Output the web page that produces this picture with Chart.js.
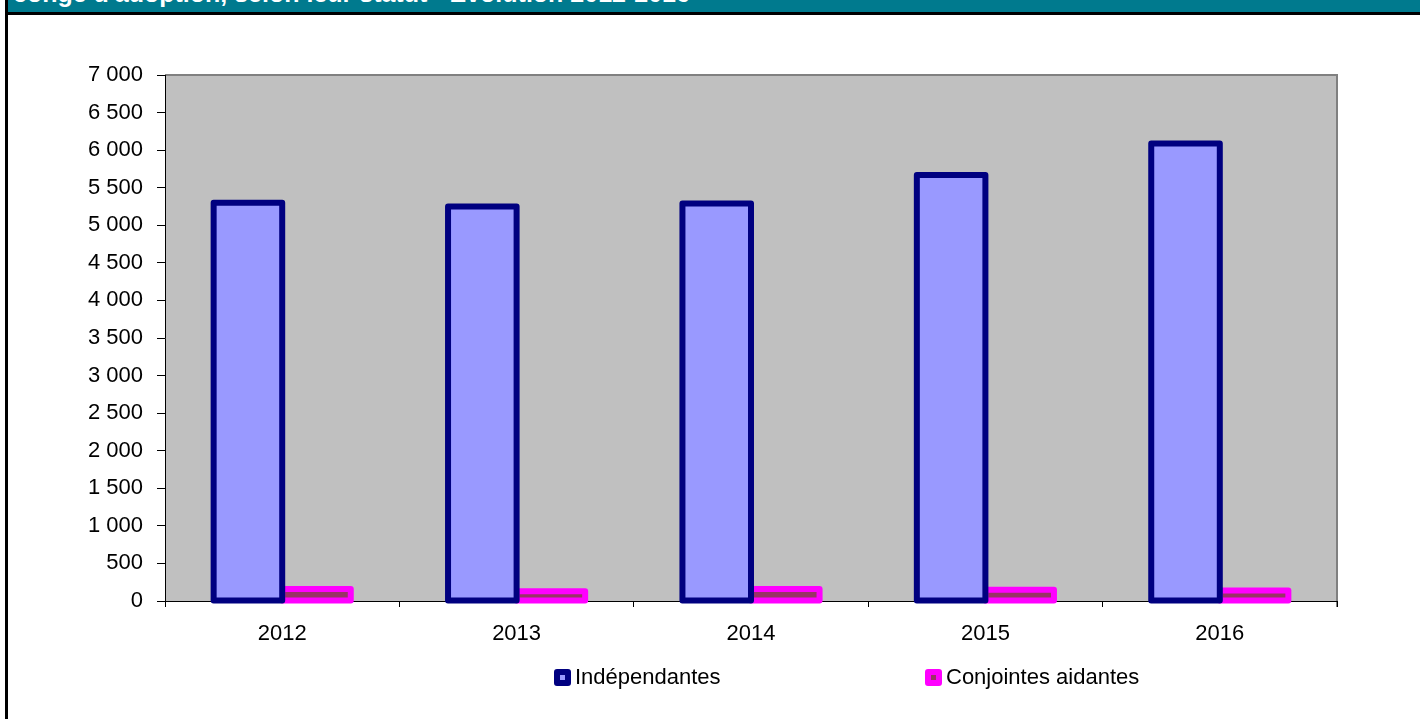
<!DOCTYPE html>
<html lang="fr">
<head>
<meta charset="UTF-8">
<title>Congé d'adoption - Evolution 2012-2016</title>
<script src="https://cdn.jsdelivr.net/npm/chart.js"></script>
<style>
    body { margin: 0; background: #fff; }
    .page { position: relative; width: 1420px; height: 719px; overflow: hidden; font-family: "Liberation Sans", Arial, sans-serif; }
    .bandeau { position: absolute; left: 8px; top: 0; width: 1412px; height: 12px; background: #007a8e; overflow: hidden; }
    .bandeau span { position: absolute; left: 5px; top: -21px; color: #fff; font: bold 25px "Liberation Sans", Arial, sans-serif; white-space: nowrap; }
    .trait-h { position: absolute; left: 8px; top: 12px; width: 1412px; height: 3px; background: #000; }
    .trait-v { position: absolute; left: 5px; top: 0; width: 3px; height: 719px; background: #000; }
    .chart-box { position: absolute; left: 0; top: 0; width: 1420px; height: 719px; }
    .legende { position: absolute; left: 554px; top: 664px; display: flex; }
    .legende div { display: flex; align-items: center; font-size: 22px; color: #000; }
    .legende i { display: inline-block; width: 17px; height: 17px; box-sizing: border-box; border: 6px solid; border-radius: 3px; margin-right: 4px; }
</style>
</head>
<body>
<div class="page">
    <div class="chart-box"><canvas id="graph"></canvas></div>
    <div class="trait-v"></div>
    <div class="bandeau"><span>congé d'adoption, selon leur statut - Evolution 2012-2016</span></div>
    <div class="trait-h"></div>
    <div class="legende" id="legende"></div>
</div>
<script>
    const annees = ['2012', '2013', '2014', '2015', '2016'];
    const independantes = [5300, 5250, 5290, 5670, 6090];
    const conjointes = [160, 130, 160, 150, 140];

    const couleurs = [
        { fond: '#9999ff', bord: '#000080' },
        { fond: '#993366', bord: '#ff00ff' }
    ];

    // fond gris de la zone de tracé + cadre haut/droite
    const fondZone = {
        id: 'fondZone',
        beforeDraw(chart) {
            const { ctx, chartArea: a } = chart;
            ctx.save();
            ctx.fillStyle = '#c0c0c0';
            ctx.fillRect(a.left, a.top, a.right - a.left, a.bottom - a.top);
            ctx.strokeStyle = '#808080';
            ctx.lineWidth = 2;
            ctx.beginPath();
            ctx.moveTo(a.left, a.top);
            ctx.lineTo(a.right, a.top);
            ctx.lineTo(a.right, a.bottom + 6);
            ctx.stroke();
            ctx.restore();
        }
    };

    // bordure épaisse centrée sur le bord de la barre (comme Excel)
    const bordBarres = {
        id: 'bordBarres',
        afterDatasetDraw(chart, args) {
            const ctx = chart.ctx;
            const ds = chart.data.datasets[args.index];
            ctx.save();
            ctx.strokeStyle = ds.contour;
            ctx.lineWidth = 6;
            ctx.lineJoin = 'round';
            args.meta.data.forEach(bar => {
                const p = bar.getProps(['x', 'y', 'base', 'width'], true);
                ctx.strokeRect(p.x - p.width / 2, p.y, p.width, p.base - p.y);
            });
            ctx.restore();
        }
    };

    const chart = new Chart(document.getElementById('graph'), {
        type: 'bar',
        data: {
            labels: annees,
            datasets: [
                { label: 'Indépendantes', data: independantes, backgroundColor: couleurs[0].fond, contour: couleurs[0].bord, borderWidth: 0 },
                { label: 'Conjointes aidantes', data: conjointes, backgroundColor: couleurs[1].fond, contour: couleurs[1].bord, borderWidth: 0 }
            ]
        },
        options: {
            responsive: true,
            maintainAspectRatio: false,
            animation: false,
            layout: { padding: { left: 0, top: 75, right: 83, bottom: 58 } },
            datasets: { bar: { categoryPercentage: 0.585, barPercentage: 1 } },
            plugins: { legend: { display: false }, tooltip: { enabled: false } },
            scales: {
                x: {
                    grid: { drawOnChartArea: false, tickLength: 6, color: '#000', offset: true },
                    border: { color: '#000', width: 1 },
                    ticks: { color: '#000', padding: 14, font: { family: '"Liberation Sans", Arial', size: 22 } },
                    afterFit: s => { s.height = 60; }
                },
                y: {
                    min: 0,
                    max: 7000,
                    grid: { drawOnChartArea: false, tickLength: 8, color: '#000' },
                    border: { color: '#000', width: 1 },
                    ticks: {
                        stepSize: 500,
                        color: '#000',
                        padding: 14,
                        font: { family: '"Liberation Sans", Arial', size: 22 },
                        callback: v => String(v).replace(/\B(?=(\d{3})+(?!\d))/g, ' ')
                    },
                    afterFit: s => { s.width = 165; }
                }
            }
        },
        plugins: [fondZone, bordBarres]
    });

    // légende
    const leg = document.getElementById('legende');
    chart.data.datasets.forEach((ds, i) => {
        const item = document.createElement('div');
        if (i === 0) item.style.width = '371px';
        const carre = document.createElement('i');
        carre.style.background = ds.backgroundColor;
        carre.style.borderColor = ds.contour;
        item.appendChild(carre);
        item.appendChild(document.createTextNode(ds.label));
        leg.appendChild(item);
    });
</script>
</body>
</html>
